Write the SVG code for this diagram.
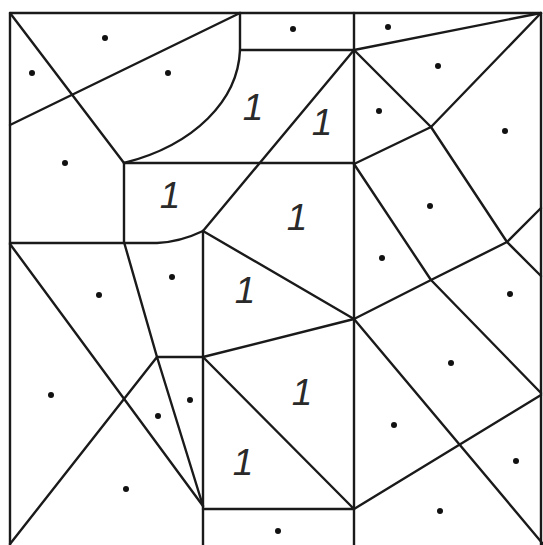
<svg xmlns="http://www.w3.org/2000/svg" width="543" height="545" viewBox="0 0 543 545">
<style>
.ln{fill:none;stroke:#1a1a1a;stroke-width:2.4;stroke-linejoin:round;stroke-linecap:round}
.dot{fill:#111}
.lbl{font-family:"Liberation Sans",Arial,sans-serif;font-style:italic;font-size:37px;fill:#2a2a2a;text-anchor:middle}
</style>
<rect width="543" height="545" fill="#fff"/>
<g id="lines" class="ln">
<path d="M10,545 V13 H541 V545"/>
<path d="M10,13 L124,163"/>
<path d="M10,125 L240,13"/>
<path d="M240,13 V50 H354"/>
<path d="M240,50 C238,100 195,145 124,163"/>
<path d="M354,13 V545"/>
<path d="M124,163 H354"/>
<path d="M124,163 V242 L157,357"/>
<path d="M10,243 H157 Q180,242 203,231"/>
<path d="M203,231 L354,50"/>
<path d="M203,231 V545"/>
<path d="M203,231 L354,319"/>
<path d="M354,50 L541,13"/>
<path d="M354,50 L431,127 L507,242 L541,276"/>
<path d="M431,127 L541,13"/>
<path d="M431,127 L354,164"/>
<path d="M354,164 L431,280 L541,393"/>
<path d="M354,319 L431,280 L507,242 L541,208"/>
<path d="M354,319 L543,544"/>
<path d="M541,395 L354,509"/>
<path d="M157,357 H203 L354,319"/>
<path d="M203,357 L354,509 H203"/>
<path d="M10,244 L203,506"/>
<path d="M10,544 L157,357 L203,506"/>
</g>
<g id="dots" class="dot">
<circle cx="105" cy="38" r="3"/>
<circle cx="32" cy="73" r="3"/>
<circle cx="168" cy="73" r="3"/>
<circle cx="65" cy="163" r="3"/>
<circle cx="293" cy="29" r="3"/>
<circle cx="388" cy="27" r="3"/>
<circle cx="438" cy="66" r="3"/>
<circle cx="379" cy="111" r="3"/>
<circle cx="505" cy="131" r="3"/>
<circle cx="430" cy="206" r="3"/>
<circle cx="382" cy="258" r="3"/>
<circle cx="172" cy="277" r="3"/>
<circle cx="99" cy="295" r="3"/>
<circle cx="51" cy="395" r="3"/>
<circle cx="190" cy="400" r="3"/>
<circle cx="158" cy="416" r="3"/>
<circle cx="126" cy="489" r="3"/>
<circle cx="510" cy="294" r="3"/>
<circle cx="451" cy="363" r="3"/>
<circle cx="394" cy="425" r="3"/>
<circle cx="516" cy="461" r="3"/>
<circle cx="440" cy="511" r="3"/>
<circle cx="278" cy="531" r="3"/>
</g>
<g id="labels" class="lbl">
<text x="253" y="120">1</text>
<text x="322" y="135">1</text>
<text x="170" y="208">1</text>
<text x="297" y="230">1</text>
<text x="245" y="303">1</text>
<text x="302" y="405">1</text>
<text x="243" y="475">1</text>
</g>
</svg>
